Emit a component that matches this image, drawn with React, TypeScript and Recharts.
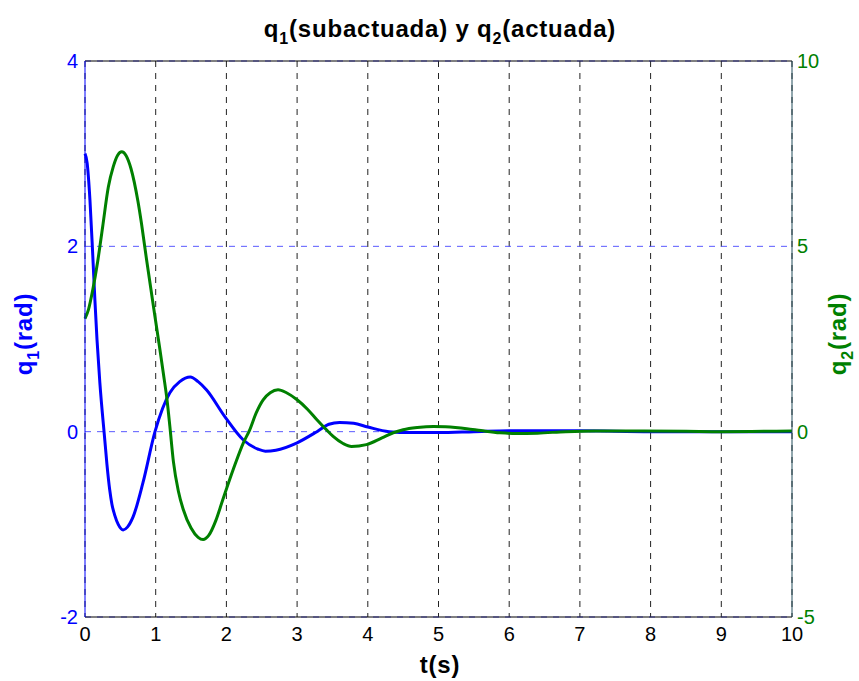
import React from 'react'
import { LineChart, Line, XAxis, YAxis, CartesianGrid, ReferenceLine } from 'recharts'

// q1 (subactuada), left axis
const q1Times = [0, 0.03, 0.07, 0.11, 0.14, 0.17, 0.21, 0.28, 0.31, 0.35, 0.38, 0.42, 0.47, 0.54, 0.6, 0.68, 0.82, 0.99, 1.2, 1.34, 1.49, 1.6, 1.72, 1.98, 2.24, 2.45, 2.55, 2.7, 3.0, 3.28, 3.45, 3.6, 3.8, 4.0, 4.3, 4.6, 5.0, 5.5, 6, 7, 8, 9, 10]
const q1Values = [3.0, 2.9, 2.5, 1.9, 1.42, 0.99, 0.53, -0.09, -0.35, -0.63, -0.78, -0.9, -1.0, -1.06, -1.03, -0.92, -0.55, 0, 0.42, 0.54, 0.59, 0.54, 0.45, 0.16, -0.09, -0.19, -0.21, -0.2, -0.12, 0, 0.08, 0.1, 0.09, 0.05, 0, -0.01, -0.01, 0, 0.01, 0.01, 0, 0, 0]

// q2 (actuada), right axis
const q2Times = [0, 0.05, 0.11, 0.18, 0.25, 0.33, 0.4, 0.46, 0.52, 0.58, 0.65, 0.75, 0.8, 0.87, 0.99, 1.06, 1.11, 1.16, 1.2, 1.25, 1.32, 1.39, 1.5, 1.6, 1.67, 1.75, 1.85, 1.95, 2.1, 2.24, 2.33, 2.42, 2.52, 2.62, 2.73, 2.85, 3.0, 3.15, 3.28, 3.4, 3.51, 3.65, 3.77, 3.98, 4.2, 4.36, 4.5, 4.7, 4.93, 5.1, 5.4, 5.6, 5.87, 6.1, 6.4, 6.8, 7.2, 7.8, 8.5, 9, 10]
const q2Values = [3.05, 3.3, 3.83, 4.6, 5.53, 6.6, 7.15, 7.45, 7.55, 7.45, 7.1, 6.2, 5.6, 4.65, 3.1, 2.21, 1.55, 0.86, 0.15, -0.8, -1.6, -2.1, -2.6, -2.85, -2.91, -2.8, -2.4, -1.83, -1.0, -0.3, 0.05, 0.5, 0.86, 1.05, 1.13, 1.05, 0.86, 0.6, 0.32, 0.08, -0.13, -0.32, -0.4, -0.35, -0.17, -0.03, 0.05, 0.11, 0.14, 0.13, 0.08, 0.03, -0.03, -0.05, -0.04, 0, 0.02, 0.02, 0.01, 0, 0.02]

const xTicks = [0, 1, 2, 3, 4, 5, 6, 7, 8, 9, 10]
const leftTicks = [-2, 0, 2, 4]
const rightTicks = [-5, 0, 5, 10]

const q1Data = q1Times.map((t, i) => ({ t, q1: q1Values[i] }))
const q2Data = q2Times.map((t, i) => ({ t, q2: q2Values[i] }))

const font = '"Liberation Sans", Arial, sans-serif'

export default function App() {
  return (
    <div style={{ position: 'absolute', left: 0, top: 0, width: 859, height: 681, background: '#fff' }}>
      <LineChart
        width={859}
        height={681}
        margin={{ top: 61, right: 17, bottom: 24, left: 35 }}
        style={{ fontFamily: font }}
      >
        <CartesianGrid horizontal={false} stroke="#222" strokeDasharray="6 6" xAxisId="x" yAxisId="left" />
        <CartesianGrid vertical={false} stroke="#5a5aff" strokeDasharray="6 6" xAxisId="x" yAxisId="left" />
        <XAxis
          xAxisId="x"
          dataKey="t"
          type="number"
          domain={[0, 10]}
          ticks={xTicks}
          allowDuplicatedCategory={false}
          height={40}
          stroke="#000"
          tickLine={false}
          tickSize={0}
          tickMargin={10}
          tick={{ fill: '#000', fontSize: 20, fontFamily: font }}
        />
        <YAxis
          yAxisId="left"
          orientation="left"
          domain={[-2, 4]}
          ticks={leftTicks}
          width={50}
          stroke="#0000ff"
          tickLine={false}
          tickSize={0}
          tickMargin={7}
          tick={{ fill: '#0000ff', fontSize: 20, fontFamily: font }}
        />
        <YAxis
          yAxisId="right"
          orientation="right"
          domain={[-5, 10]}
          ticks={rightTicks}
          width={50}
          stroke="#244e5c"
          tickLine={false}
          tickSize={0}
          tickMargin={5}
          tick={{ fill: '#008000', fontSize: 20, fontFamily: font }}
        />
        <ReferenceLine xAxisId="x" yAxisId="left" y={4} stroke="#000" strokeWidth={1} />
        <Line
          xAxisId="x"
          yAxisId="left"
          data={q1Data}
          dataKey="q1"
          type="monotone"
          stroke="#0000ff"
          strokeWidth={3}
          dot={false}
          isAnimationActive={false}
        />
        <Line
          xAxisId="x"
          yAxisId="right"
          data={q2Data}
          dataKey="q2"
          type="monotone"
          stroke="#008000"
          strokeWidth={3}
          dot={false}
          isAnimationActive={false}
        />
      </LineChart>
      <svg
        width={859}
        height={681}
        style={{ position: 'absolute', left: 0, top: 0, pointerEvents: 'none', fontFamily: font, fontWeight: 'bold' }}
      >
        <text x={440} y={37} textAnchor="middle" fontSize={24} letterSpacing={0.8} fill="#000">
          q<tspan fontSize={16} dy={7}>1</tspan>
          <tspan dy={-7}>(subactuada) y q</tspan>
          <tspan fontSize={16} dy={7}>2</tspan>
          <tspan dy={-7}>(actuada)</tspan>
        </text>
        <text x={440} y={673} textAnchor="middle" fontSize={24} letterSpacing={0.8} fill="#000">t(s)</text>
        <text transform="translate(32,334) rotate(-90)" textAnchor="middle" fontSize={24} letterSpacing={0.8} fill="#0000ff">
          q<tspan fontSize={16} dy={7}>1</tspan>
          <tspan dy={-7}>(rad)</tspan>
        </text>
        <text transform="translate(846,334) rotate(-90)" textAnchor="middle" fontSize={24} letterSpacing={0.8} fill="#008000">
          q<tspan fontSize={16} dy={7}>2</tspan>
          <tspan dy={-7}>(rad)</tspan>
        </text>
      </svg>
    </div>
  )
}
